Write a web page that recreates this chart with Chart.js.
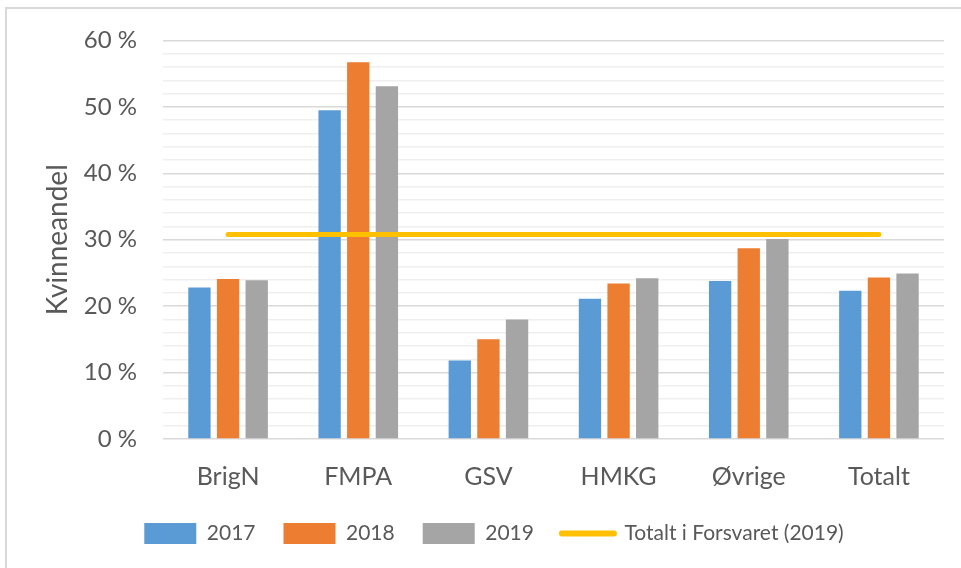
<!DOCTYPE html>
<html>
<head>
<meta charset="utf-8">
<script src="https://cdn.jsdelivr.net/npm/chart.js@4"></script>
<style>
  html, body { margin: 0; padding: 0; background: #fff; overflow: hidden; }
  #wrap { position: relative; width: 961px; height: 568px; }
  #frame { position: absolute; left: 5px; top: 7px; width: 1000px; height: 600px; border: 2px solid #d9d9d9; }
  #chart { position: absolute; left: 0; top: 0; }
</style>
</head>
<body>
<div id="wrap">
  <div id="frame"></div>
  <canvas id="chart" width="961" height="568"></canvas>
</div>
<script>
// Data
const categories = ["BrigN", "FMPA", "GSV", "HMKG", "Øvrige", "Totalt"];
const values2017 = [22.8, 49.5, 11.8, 21.1, 23.8, 22.3];
const values2018 = [24.1, 56.7, 15.0, 23.4, 28.7, 24.3];
const values2019 = [23.9, 53.1, 18.0, 24.2, 30.1, 24.9];
const totalForsvaret = [30.8, 30.8, 30.8, 30.8, 30.8, 30.8];
const yTicks = [0, 10, 20, 30, 40, 50, 60];

const textColor = "#595959";
const fontFamily = "Lato, 'Open Sans', sans-serif";

let chartEl = document.getElementById("chart");

let chart = new Chart(chartEl, {
    data: {
        labels: categories,
        datasets: [
            {
                type: 'line',
                label: 'Totalt i Forsvaret (2019)',
                data: totalForsvaret,
                borderColor: '#FFC000',
                backgroundColor: '#FFC000',
                borderWidth: 5,
                borderCapStyle: 'round',
                pointRadius: 0,
                order: 0
            },
            { type: 'bar', label: '2017', data: values2017, backgroundColor: '#5B9BD5', order: 1 },
            { type: 'bar', label: '2018', data: values2018, backgroundColor: '#ED7D31', order: 1 },
            { type: 'bar', label: '2019', data: values2019, backgroundColor: '#A5A5A5', order: 1 }
        ]
    },
    options: {
        responsive: false,
        animation: false,
        layout: { padding: { top: 36, left: 44, right: 17, bottom: 14 } },
        datasets: {
            bar: { categoryPercentage: 0.66, barPercentage: 0.78 }
        },
        scales: {
            x: {
                grid: { display: false },
                border: { display: false },
                ticks: {
                    color: textColor,
                    padding: 15,
                    font: { family: fontFamily, size: 25 }
                },
                afterFit: (scale) => { scale.height = 56; }
            },
            y: {
                min: 0,
                max: 60,
                border: { display: false },
                grid: {
                    drawTicks: false,
                    lineWidth: 1.5,
                    color: (ctx) => yTicks.includes(ctx.tick.value) ? '#d9d9d9' : '#efefef'
                },
                ticks: {
                    stepSize: 2,
                    autoSkip: false,
                    padding: 26,
                    color: textColor,
                    font: { family: fontFamily, size: 24 },
                    callback: (v) => yTicks.includes(v) ? v + ' %' : ''
                },
                title: {
                    display: true,
                    text: 'Kvinneandel',
                    color: textColor,
                    font: { family: fontFamily, size: 28, lineHeight: 1.0 },
                    padding: 0
                },
                afterFit: (scale) => { scale.width = 119; }
            }
        },
        plugins: {
            tooltip: { enabled: false },
            legend: {
                position: 'bottom',
                labels: {
                    color: textColor,
                    font: { family: fontFamily, size: 21 },
                    usePointStyle: true,
                    pointStyleWidth: 52,
                    padding: 28,
                    generateLabels: (c) => {
                        // bars first, line last, like the reference
                        let items = Chart.defaults.plugins.legend.labels.generateLabels(c);
                        items.forEach((it) => {
                            if (it.datasetIndex === 0) {
                                it.pointStyle = 'line';
                                it.lineWidth = 6;
                                it.lineCap = 'round';
                                it.strokeStyle = '#FFC000';
                            } else {
                                it.pointStyle = 'rect';
                                it.lineWidth = 0;
                            }
                        });
                        return items.slice(1).concat(items.slice(0, 1));
                    }
                }
            }
        }
    }
});
</script>
</body>
</html>
